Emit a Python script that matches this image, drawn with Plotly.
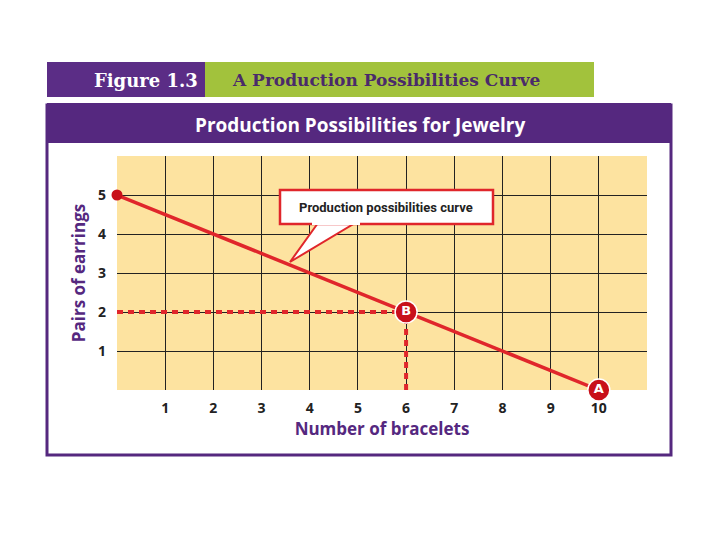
import plotly.graph_objects as go

bracelets = [0, 6, 10]
earrings = [5, 2, 0]
point_labels = ["", "B", "A"]
x_ticks = [1, 2, 3, 4, 5, 6, 7, 8, 9, 10]
y_ticks = [1, 2, 3, 4, 5]

OFF = 8
W, H = 720 - 2 * OFF, 540 - 2 * OFF
def px(x): return (x - OFF) / W
def py(y): return 1 - (y - OFF) / H

RED = "#e0262b"
PURPLE = "#55287f"
fig = go.Figure()
fig.add_trace(go.Scatter(x=bracelets, y=earrings, mode="lines", line=dict(color=RED, width=3.5),
                         hoverinfo="skip", showlegend=False))
fig.add_trace(go.Scatter(x=[0, bracelets[1]], y=[earrings[1]] * 2, mode="lines",
                         line=dict(color=RED, width=4, dash="6px,5px"), showlegend=False))
fig.add_trace(go.Scatter(x=[bracelets[1]] * 2, y=[0, earrings[1]], mode="lines",
                         line=dict(color=RED, width=4, dash="6px,5px"), showlegend=False))
fig.add_trace(go.Scatter(x=[bracelets[0]], y=[earrings[0]], mode="markers",
                         marker=dict(color="#c8101a", size=11), showlegend=False, cliponaxis=False))
fig.add_trace(go.Scatter(x=bracelets[1:], y=earrings[1:], mode="markers+text",
                         text=["<b>" + t + "</b>" for t in point_labels[1:]], textposition="middle center",
                         textfont=dict(color="white", size=13, family="DejaVu Sans, sans-serif"),
                         marker=dict(color="#c8101a", size=22, line=dict(color="white", width=1.5)),
                         showlegend=False, cliponaxis=False))

shapes = [
    dict(type="rect", xref="paper", yref="paper", x0=px(47), x1=px(671), y0=py(455), y1=py(105),
         line=dict(color=PURPLE, width=3), fillcolor="white", layer="below"),
    dict(type="rect", xref="paper", yref="paper", x0=px(47), x1=px(671), y0=py(143), y1=py(103),
         line=dict(color=PURPLE, width=0), fillcolor=PURPLE, layer="below"),
    dict(type="rect", xref="x", yref="y", x0=0, x1=11, y0=0, y1=6,
         line=dict(width=0), fillcolor="#fde3a0", layer="below"),
    dict(type="rect", xref="paper", yref="paper", x0=px(47), x1=px(205), y0=py(97), y1=py(62),
         line=dict(width=0), fillcolor="#5b2d86", layer="below"),
    dict(type="rect", xref="paper", yref="paper", x0=px(205), x1=px(594), y0=py(97), y1=py(62),
         line=dict(width=0), fillcolor="#a2c23c", layer="below"),
    dict(type="path", xref="paper", yref="paper",
         path=f"M {px(318)},{py(223)} L {px(290)},{py(262)} L {px(355)},{py(223)} Z",
         fillcolor="white", line=dict(color=RED, width=2)),
    dict(type="rect", xref="paper", yref="paper", x0=px(280), x1=px(493), y0=py(224), y1=py(190),
         fillcolor="white", line=dict(color=RED, width=2.5)),
    dict(type="rect", xref="paper", yref="paper", x0=px(312), x1=px(360), y0=py(225), y1=py(219),
         fillcolor="white", line=dict(width=0)),
]
fig.update_layout(shapes=shapes)

ann = [
    dict(text="<b>Figure 1.3</b>", x=px(146), y=py(80), font=dict(color="white", size=18, family="DejaVu Serif")),
    dict(text="<b>A Production Possibilities Curve</b>", x=px(386), y=py(80),
         font=dict(color="#4a2a6a", size=17, family="DejaVu Serif")),
    dict(text="<b>Production Possibilities for Jewelry</b>", x=px(360), y=py(125),
         font=dict(color="white", size=19, family="Open Sans")),
    dict(text="<b>Production possibilities curve</b>", x=px(386), y=py(207),
         font=dict(color="#222", size=13, family="Roboto")),
]
fig.update_layout(annotations=[dict(a, xref="paper", yref="paper", showarrow=False,
                                    xanchor="center", yanchor="middle") for a in ann])

fig.update_layout(
    width=W, height=H, margin=dict(l=0, r=0, t=0, b=0),
    paper_bgcolor="white", plot_bgcolor="#fde3a0",
    font=dict(family="Open Sans"),
    xaxis=dict(domain=[px(117), px(647)], range=[0, 11], tickvals=x_ticks,
               ticktext=[f"<b>{t}</b>" for t in x_ticks], showgrid=True,
               gridcolor="#222", gridwidth=1, zeroline=False, showline=False,
               tickfont=dict(size=14, color="#222"), ticks="", ticklabelstandoff=8,
               title=dict(text="<b>Number of bracelets</b>", font=dict(size=17, color=PURPLE), standoff=4)),
    yaxis=dict(domain=[py(390), py(156)], range=[0, 6], tickvals=y_ticks,
               ticktext=[f"<b>{t}</b>" for t in y_ticks], showgrid=True,
               gridcolor="#222", gridwidth=1, zeroline=False, showline=False,
               tickfont=dict(size=14, color="#222"), ticks="", ticklabelstandoff=10,
               title=dict(text="<b>Pairs of earrings</b>", font=dict(size=17, color=PURPLE), standoff=8)),
)
fig.write_html("out.html")
